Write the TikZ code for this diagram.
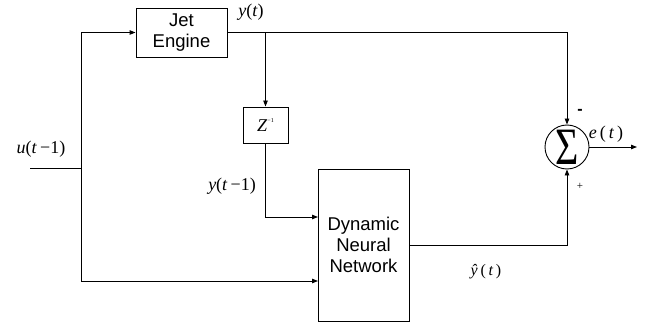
\documentclass[tikz,border=0pt]{standalone}
\usepackage{fontspec}
\setmainfont{Liberation Serif}
\setsansfont{Liberation Sans}
\usetikzlibrary{arrows.meta}
\tikzset{
  blk/.style={draw, line width=0.9pt, inner sep=0pt, font=\sffamily\fontsize{18.5}{21}\selectfont, align=center},
  lbl/.style={inner sep=0pt, font=\fontsize{18}{20}\selectfont},
  wire/.style={line width=0.9pt},
  arr/.style={wire, -{Triangle[length=6pt,width=4.5pt]}}
}
\begin{document}
\begin{tikzpicture}[x=1pt,y=-1pt]
\useasboundingbox (0,0) rectangle (657,329);
\node[blk, minimum width=91pt, minimum height=49pt] (je) at (181.5,32.5) {Jet\\Engine};
\node[blk, minimum width=45pt, minimum height=36pt, font=\fontsize{18}{18}\selectfont] (z) at (265.5,125) {\textit{Z}\raisebox{1.0ex}{\fontsize{6}{6}\selectfont −1}};
\node[blk, minimum width=91pt, minimum height=152pt] (dnn) at (363.5,245) {Dynamic\\Neural\\Network};
\node[circle, draw, line width=0.9pt, minimum size=44pt, inner sep=0pt] (sum) at (567,147) {\raisebox{-2pt}{\scalebox{0.8}[1.05]{\fontsize{50}{50}\selectfont Σ}}};
\coordinate (in) at (30,168);
\coordinate (split) at (81,168);
\coordinate (br) at (265.5,32.5);
\coordinate (dl1) at (318,217);
\coordinate (dl2) at (318,281);
\coordinate (out) at (637,147);
\draw[wire] (in) -- (split);
\draw[arr] (split) |- (je.west);
\draw[arr] (split) |- (dl2);
\draw[arr] (je.east) -| (sum.north);
\draw[arr] (br) -- (z.north);
\draw[arr] (z.south) |- (dl1);
\draw[arr] (dnn.east) -| (sum.south);
\draw[arr] (sum.east) -- (out);
\node[lbl] (lu) at (41,149) {\textit{u}(\textit{t}\,−1)};
\node[lbl] (ly) at (251,12) {\textit{y}(\textit{t})};
\node[lbl] (lyd) at (232,186) {\textit{y}(\textit{t}\,−1)};
\node[lbl] (le) at (606,134) {\textit{e}\,(\,\textit{t}\,)};
\node[lbl, font=\fontsize{16}{18}\selectfont] (lyh) at (486,272) {\textit{ŷ}\,(\,\textit{t}\,)};
\node[inner sep=0pt, font=\sffamily\bfseries\fontsize{16}{16}\selectfont] (lm) at (580,112) {-};
\node[inner sep=0pt, font=\fontsize{11}{11}\selectfont] (lp) at (580,186) {+};
\end{tikzpicture}
\end{document}
